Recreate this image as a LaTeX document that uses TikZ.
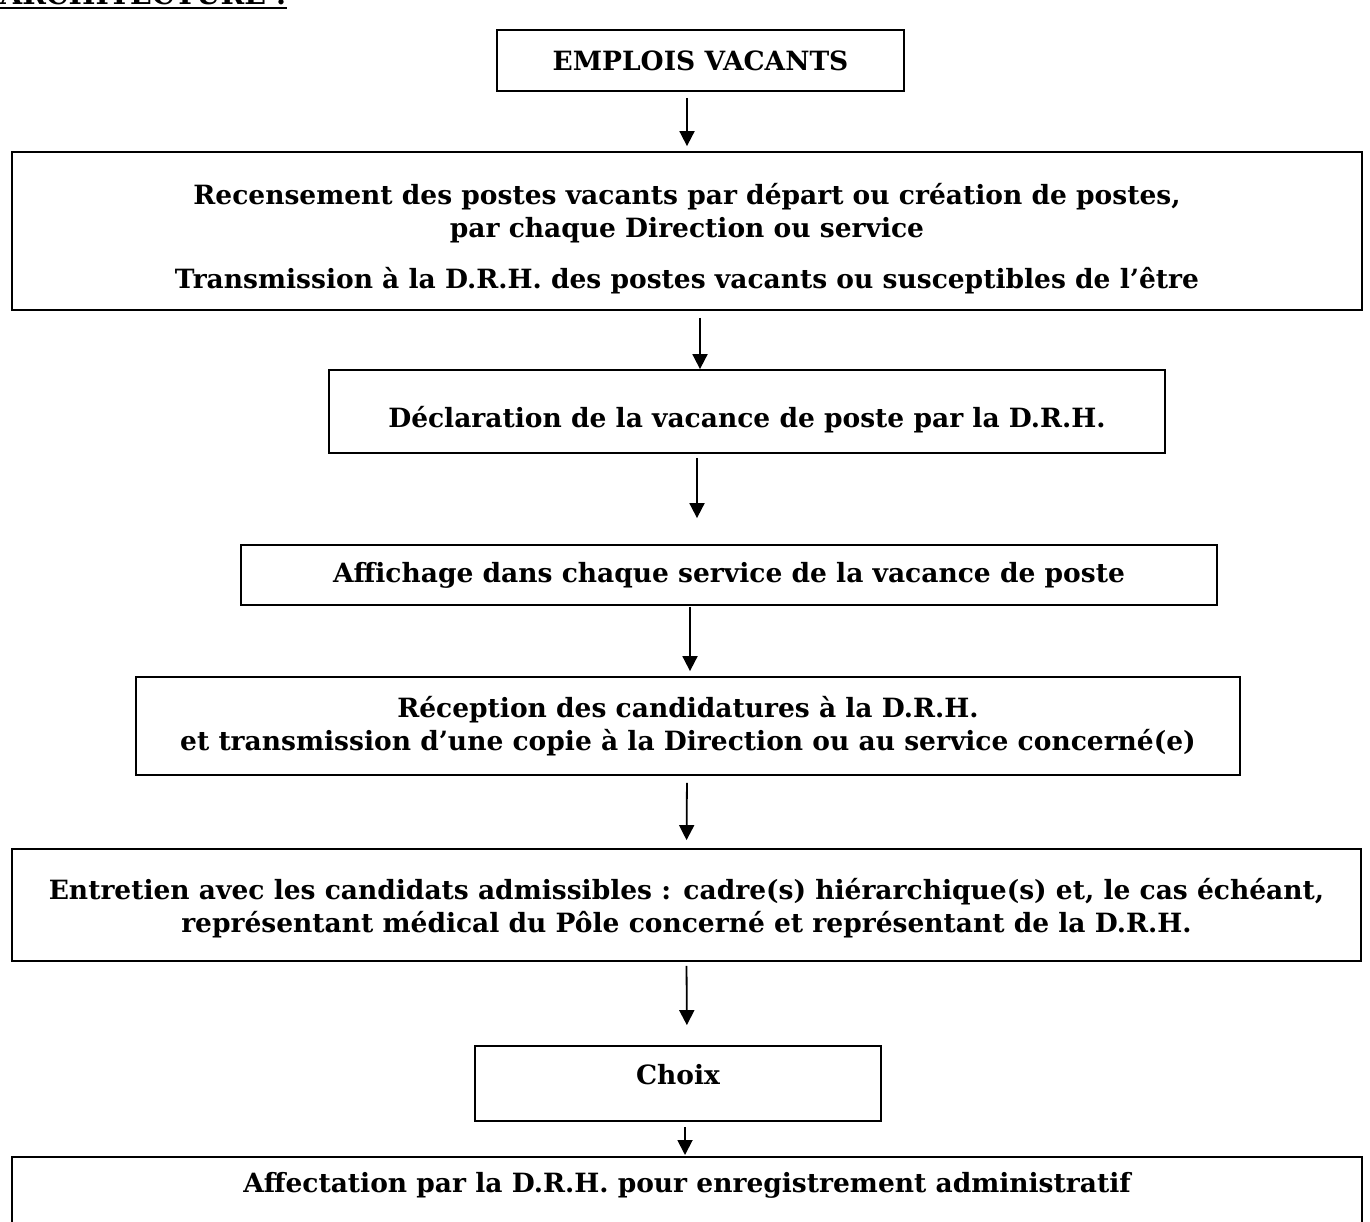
\documentclass[tikz,border=0pt]{standalone}
\usepackage{fontspec}
\setmainfont{DejaVu Serif}
\usetikzlibrary{arrows.meta}

\begin{document}
\begin{tikzpicture}[
    x=1pt, y=-1pt,
    every node/.style={font=\fontsize{26.5}{33}\selectfont\bfseries},
    box/.style={draw, line width=1.8pt, align=center, inner sep=0pt},
    arrow/.style={-{Triangle[length=15pt, width=15pt]}, line width=1.8pt}
]
    \useasboundingbox (0,0) rectangle (1370,1221);

    \node[anchor=base west, inner sep=0pt, font=\fontsize{28.5}{33}\selectfont\bfseries] (titre) at (0,4) {ARCHITECTURE :};
    \draw[line width=2pt] ([yshift=-4pt]titre.base west) -- ([yshift=-4pt]titre.base east);

    \node[box, minimum width=407pt, minimum height=61pt] (emplois) at (700.5,60.5) {EMPLOIS VACANTS};
    \node[box, minimum width=1350pt, minimum height=158pt] (recens) at (687,231)
        {\rule{0pt}{37pt}Recensement des postes vacants par départ ou création de postes,\\
         par chaque Direction ou service\\[18pt]
         Transmission à la D.R.H. des postes vacants ou susceptibles de l’être};
    \node[box, minimum width=836pt, minimum height=83pt, text height=38pt, text depth=6pt] (declar) at (747,411.5)
        {Déclaration de la vacance de poste par la D.R.H.};
    \node[box, minimum width=976pt, minimum height=60pt] (affich) at (729,575)
        {Affichage dans chaque service de la vacance de poste};
    \node[box, minimum width=1104pt, minimum height=98pt] (recept) at (688,726)
        {Réception des candidatures à la D.R.H.\\
         et transmission d’une copie à la Direction ou au service concerné(e)};
    \node[box, minimum width=1349pt, minimum height=112pt] (entret) at (686.5,905)
        {\rule{0pt}{28pt}Entretien avec les candidats admissibles : cadre(s) hiérarchique(s) et, le cas échéant,\\
         représentant médical du Pôle concerné et représentant de la D.R.H.};
    \node[box, minimum width=406pt, minimum height=75pt, text height=20pt, text depth=19pt] (choix) at (678,1083.5) {Choix};
    \node[box, minimum width=1350pt, anchor=north, inner sep=10pt, text height=26pt, text depth=40pt] (affect) at (687,1156)
        {Affectation par la D.R.H. pour enregistrement administratif};

    \draw[arrow, shorten <=6pt, shorten >=5pt] ([xshift=-13.5pt]emplois.south) -- (recens.north);
    \draw[arrow, shorten <=7pt] ([xshift=13pt]recens.south) -- ([xshift=-47pt]declar.north);
    \draw[arrow, shorten <=4pt, shorten >=26pt] ([xshift=-50pt]declar.south) -- ([xshift=-32pt]affich.north);
    \draw[arrow, shorten <=1pt, shorten >=5pt] ([xshift=-39pt]affich.south) -- ([xshift=2pt]recept.north);
    \draw[arrow, shorten <=7pt, shorten >=8pt] ([xshift=-1pt]recept.south) -- (entret.north);
    \draw[arrow, shorten <=4pt, shorten >=20pt] (entret.south) -- ([xshift=9pt]choix.north);
    \draw[arrow, shorten <=5pt, shorten >=1pt] ([xshift=7pt]choix.south) -- ([xshift=-2pt]affect.north);
\end{tikzpicture}
\end{document}
